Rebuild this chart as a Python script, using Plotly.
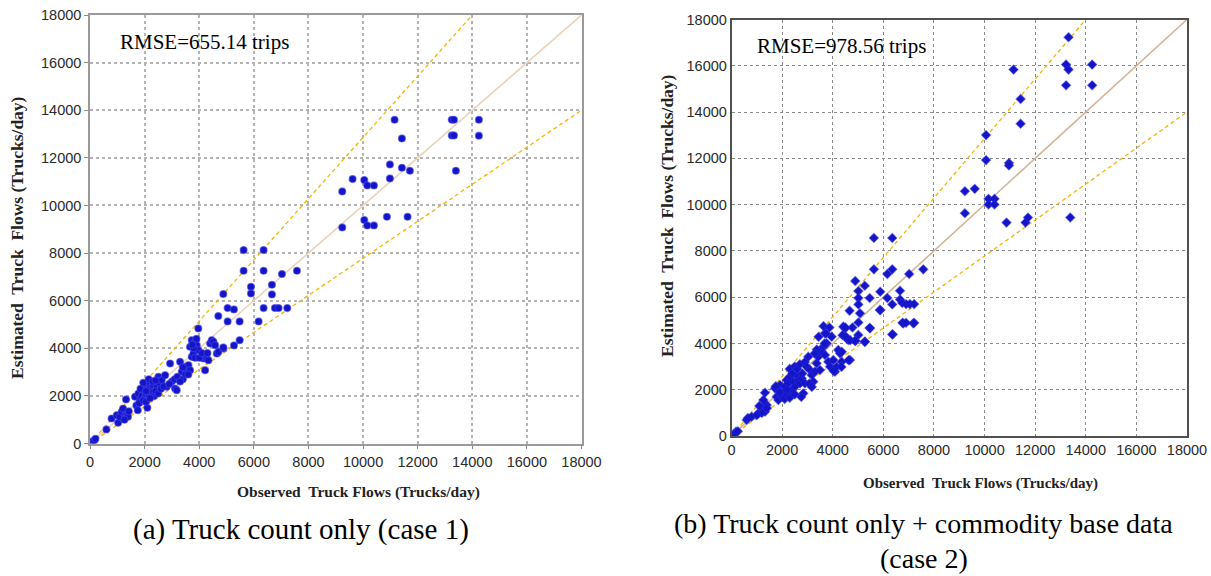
import plotly.graph_objects as go

W, H = 1211, 576

# ---------------- data: case 1 (left) ----------------
obs1 = [80, 150, 200, 600, 790, 980, 1030, 1090, 1160, 1210, 1300, 1350, 1320, 1390, 1260, 1420,
        1650, 1772, 1833, 1700, 1750, 1800, 1955, 2016, 2077, 2139, 2200, 2261, 2322, 2444, 2566, 2505,
        2627, 2750, 2811, 2100, 1900, 2000, 2050, 2150, 2250, 2300, 2350, 2400, 2500, 2600, 2700, 1950,
        2050, 2200, 2150, 2300, 2400, 1850, 1950, 2050,
        2933, 3116, 3177, 3299, 3361, 3483, 3544, 3605, 3666, 3727, 3788, 3666, 3727, 3849, 3910, 3972,
        3966, 4155, 4216, 4277, 4338, 4399, 4460, 4521, 4582, 4644, 4705, 4888, 3000, 3100, 3200, 3400,
        3500, 3300, 2900, 3800, 3900, 3750, 3850, 4000, 4100, 3400, 3600, 4300,
        5272, 5480, 4882, 5626, 6358, 5626, 6358, 7030, 7579, 5895, 5895, 6663, 6663, 4882, 4699, 5040,
        5272, 5040, 5480, 6175, 6358, 6773, 6907, 7225,
        11154, 11423, 13250, 13330, 13250, 13330, 14242, 14242, 13400, 10984, 11423, 11716, 10984, 9238,
        9617, 10044, 10154, 10398, 9238, 10044, 10154, 10398, 10874, 11630]
est1 = [80, 120, 200, 590, 1050, 1190, 870, 1120, 1330, 1470, 1200, 1190, 1850, 1120, 1000, 1350,
        1960, 2100, 1820, 1600, 1400, 1700, 2240, 2380, 2520, 2590, 2310, 2240, 2450, 2380, 2520, 2800,
        2660, 2870, 2380, 1500, 2000, 1900, 2100, 2000, 2050, 2150, 2000, 2200, 2100, 2300, 2400, 1800,
        1750, 1900, 2700, 2600, 2650, 2300, 2550, 2200,
        3360, 2310, 2240, 3430, 3010, 3220, 3080, 3290, 3080, 3640, 3780, 4060, 4340, 4270, 4130, 3920,
        4833, 3570, 3080, 3570, 3500, 4200, 4340, 4270, 4130, 3780, 3850, 3990, 2600, 2700, 2800, 2700,
        2900, 2600, 2500, 4000, 4400, 4150, 3600, 3600, 3800, 3200, 2900, 3800,
        4118, 4342, 4034, 8124, 8124, 7256, 7256, 7116, 7256, 6584, 6303, 6668, 6261, 6275, 5351, 5687,
        5631, 5127, 5127, 5127, 5687, 5687, 5687, 5687,
        13600, 12817, 13600, 13600, 12940, 12940, 13600, 12930, 11458, 11724, 11584, 11458, 11136, 10590,
        11108, 11066, 10842, 10842, 9077, 9385, 9161, 9161, 9525, 9525]

# ---------------- data: case 2 (right) ----------------
obs2 = [178, 100, 250, 600, 650, 797, 1060, 1192, 1258, 1324, 1390, 1324, 1258, 1100, 1200, 1400, 1000,
        1719, 1785, 1851, 1917, 2048, 2114, 2180, 2246, 2312, 2377, 2443, 2509, 2575, 2641, 2707, 2773,
        2838, 2904, 2000, 2100, 2200, 2300, 2400, 2500, 2600, 2700, 2800, 2900, 1750, 1900, 2200, 2300, 2500,
        2970, 3036, 3102, 3168, 3234, 3299, 3365, 3431, 3497, 3563, 3629, 3695, 3695, 3760, 3826, 3892,
        3958, 4024, 4090, 4155, 4221, 4287, 4353, 4419, 4485, 4551, 4617, 4682, 5011, 5077, 5275, 5472,
        5867, 6368, 6789, 7184, 3636, 3870, 3733, 3677, 3441, 3371, 3287, 4780, 4500, 4388, 4527, 4694,
        4903, 4360, 4346, 4040, 3078, 3176, 2758,
        5628, 6353, 5628, 6353, 6158, 7021, 7579, 4890, 5266, 5015, 5015, 5015, 5879, 5461, 6158, 6659,
        6353, 6659, 6750, 6900, 7050, 7217, 5879, 4667, 5015, 6757, 6896, 7217, 5461, 6353, 4876, 5266, 4625,
        13319, 11145, 13221, 13319, 14252, 13221, 14252, 11424, 11424, 10059, 10059, 10964, 10964, 9223,
        9613, 10156, 10393, 10156, 10393, 9223, 10867, 11619, 11716, 13388]
est2 = [186, 80, 200, 690, 780, 834, 979, 1195, 1267, 1051, 1339, 1872, 1555, 1300, 1000, 1200, 900,
        2059, 1699, 1555, 2203, 1915, 2131, 2420, 2276, 2564, 1987, 2348, 2131, 2636, 2420, 2276, 2492,
        1843, 2276, 1700, 1600, 1800, 2900, 2700, 3000, 2900, 3100, 2700, 3200, 2150, 1900, 2000, 1650, 1800,
        2996, 3428, 2852, 2636, 2348, 2780, 3140, 3428, 2852, 3644, 3860, 4437, 3500, 4005, 3212, 2996,
        4293, 3284, 2780, 2996, 3716, 3572, 3212, 4725, 4653, 4221, 4149, 3284, 4365, 5302, 4077, 4653,
        5446, 4394, 4869, 4869, 4747, 4690, 4430, 3997, 4286, 3737, 3564, 4690, 4690, 4358, 4286, 4141,
        4112, 3636, 2987, 2814, 2265, 2121, 1688,
        8559, 8559, 7203, 7203, 7001, 7001, 7203, 6698, 6495, 6264, 5961, 5687, 6236, 5961, 5961, 6279,
        5687, 5904, 5750, 5700, 5700, 5700, 5442, 5413, 4908, 4893, 4893, 4893, 4677, 4388, 4114, 4069, 3277,
        17234, 15834, 16051, 15834, 16051, 15156, 15156, 14564, 13496, 13005, 11923, 11793, 11692, 10580,
        10681, 10248, 10248, 10003, 10003, 9628, 9223, 9223, 9440, 9440]

# reference lines (1:1 and +/- bands)
ref_x = [0, 18000]
ref_y = [0, 18000]
upper_x = [0, 14000]
upper_y = [0, 18000]
lower_x = [0, 18000]
lower_y = [0, 14000]

ticks = list(range(0, 18001, 2000))
tick_text = [str(t) for t in ticks]

rmse1 = "RMSE=655.14 trips"
rmse2 = "RMSE=978.56 trips"
xtitle = "Observed  Truck Flows (Trucks/day)"
ytitle = "Estimated  Truck  Flows (Trucks/day)"
cap1 = "(a) Truck count only (case 1)"
cap2a = "(b) Truck count only + commodity base data"
cap2b = "(case 2)"

BLUE = "#1414c8"
ORANGE = "#f5b400"

fig = go.Figure()

def add_panel(xa, ya, obs, est, symbol, size, diag_color, halo):
    fig.add_trace(go.Scatter(x=ref_x, y=ref_y, mode="lines", xaxis=xa, yaxis=ya,
                             line=dict(color=diag_color, width=1.6), showlegend=False, hoverinfo="skip"))
    fig.add_trace(go.Scatter(x=upper_x, y=upper_y, mode="lines", xaxis=xa, yaxis=ya,
                             line=dict(color=ORANGE, width=1.3, dash="4px,3px"), showlegend=False, hoverinfo="skip"))
    fig.add_trace(go.Scatter(x=lower_x, y=lower_y, mode="lines", xaxis=xa, yaxis=ya,
                             line=dict(color=ORANGE, width=1.3, dash="4px,3px"), showlegend=False, hoverinfo="skip"))
    fig.add_trace(go.Scatter(x=obs, y=est, mode="markers", xaxis=xa, yaxis=ya,
                             marker=dict(symbol=symbol, size=size, color=BLUE,
                                         line=dict(color=halo, width=1.2)),
                             showlegend=False))

add_panel("x", "y", obs1, est1, "circle", 7, "#ecd2ba", "rgba(70,70,235,0.55)")
add_panel("x2", "y2", obs2, est2, "diamond", 7, "#d4b496", "rgba(40,40,220,0.5)")

# panel geometry in pixels
L = dict(x0=90, x1=581.5, ytop=15, ybot=443.5)
R = dict(x0=731.5, x1=1187, ytop=19.5, ybot=436)

def dom_x(p):
    return [p["x0"] / W, p["x1"] / W]

def dom_y(p):
    return [1 - p["ybot"] / H, 1 - p["ytop"] / H]

tickfont = dict(family="Liberation Sans, Arial", size=14.5, color="#2a2a2a")

common = dict(range=[0, 18000], tickmode="array", tickvals=ticks, ticktext=tick_text, automargin=False,
              showgrid=True, zeroline=False, showline=True, mirror=True, tickfont=tickfont)

fig.update_layout(
    width=W, height=H, margin=dict(l=0, r=0, t=0, b=0, autoexpand=False),
    paper_bgcolor="white", plot_bgcolor="white",
    xaxis=dict(domain=dom_x(L), anchor="y", **common, gridcolor="#b4b4b4", griddash="dot", gridwidth=1.6,
               linecolor="#9a9a9a", linewidth=1.5, ticks="outside", ticklen=4, tickcolor="#8a8a8a"),
    yaxis=dict(domain=dom_y(L), anchor="x", **common, gridcolor="#b4b4b4", griddash="dot", gridwidth=1.6,
               linecolor="#9a9a9a", linewidth=1.5, ticks="outside", ticklen=4, tickcolor="#8a8a8a"),
    xaxis2=dict(domain=dom_x(R), anchor="y2", **common, gridcolor="#8a8a8a", griddash="3px,3px", gridwidth=1,
                linecolor="#505050", linewidth=1.5, ticks="", ),
    yaxis2=dict(domain=dom_y(R), anchor="x2", **common, gridcolor="#8a8a8a", griddash="3px,3px", gridwidth=1,
                linecolor="#505050", linewidth=1.5, ticks=""),
)

serif = "Liberation Serif, Times New Roman, serif"
ann = []
ann.append(dict(text=rmse1, x=118 / W, y=1 - 42 / H, xanchor="left", yanchor="middle",
                font=dict(family=serif, size=21, color="black")))
ann.append(dict(text=rmse2, x=755 / W, y=1 - 46 / H, xanchor="left", yanchor="middle",
                font=dict(family=serif, size=21, color="black")))
ann.append(dict(text="<b>" + xtitle + "</b>", x=358 / W, y=1 - 492 / H, xanchor="center", yanchor="middle",
                font=dict(family=serif, size=15.5, color="#222")))
ann.append(dict(text="<b>" + xtitle + "</b>", x=980 / W, y=1 - 483 / H, xanchor="center", yanchor="middle",
                font=dict(family=serif, size=15, color="#222")))
ann.append(dict(text="<b>" + ytitle + "</b>", x=17 / W, y=1 - 238 / H, xanchor="center", yanchor="middle",
                textangle=-90, font=dict(family=serif, size=17.5, color="#222")))
ann.append(dict(text="<b>" + ytitle + "</b>", x=667 / W, y=1 - 216 / H, xanchor="center", yanchor="middle",
                textangle=-90, font=dict(family=serif, size=17.5, color="#222")))
ann.append(dict(text=cap1, x=301 / W, y=1 - 529 / H, xanchor="center", yanchor="middle",
                font=dict(family=serif, size=29, color="black")))
ann.append(dict(text=cap2a, x=924 / W, y=1 - 541 / H, xanchor="center", yanchor="bottom",
                font=dict(family=serif, size=28, color="black")))
ann.append(dict(text=cap2b, x=924 / W, y=1 - 541 / H, xanchor="center", yanchor="top",
                font=dict(family=serif, size=28, color="black")))
for a in ann:
    a.update(xref="paper", yref="paper", showarrow=False)
fig.update_layout(annotations=ann)

fig.write_html("out.html", config={"displayModeBar": False},
               post_script="document.body.style.margin='0px';document.body.style.padding='0px';")
